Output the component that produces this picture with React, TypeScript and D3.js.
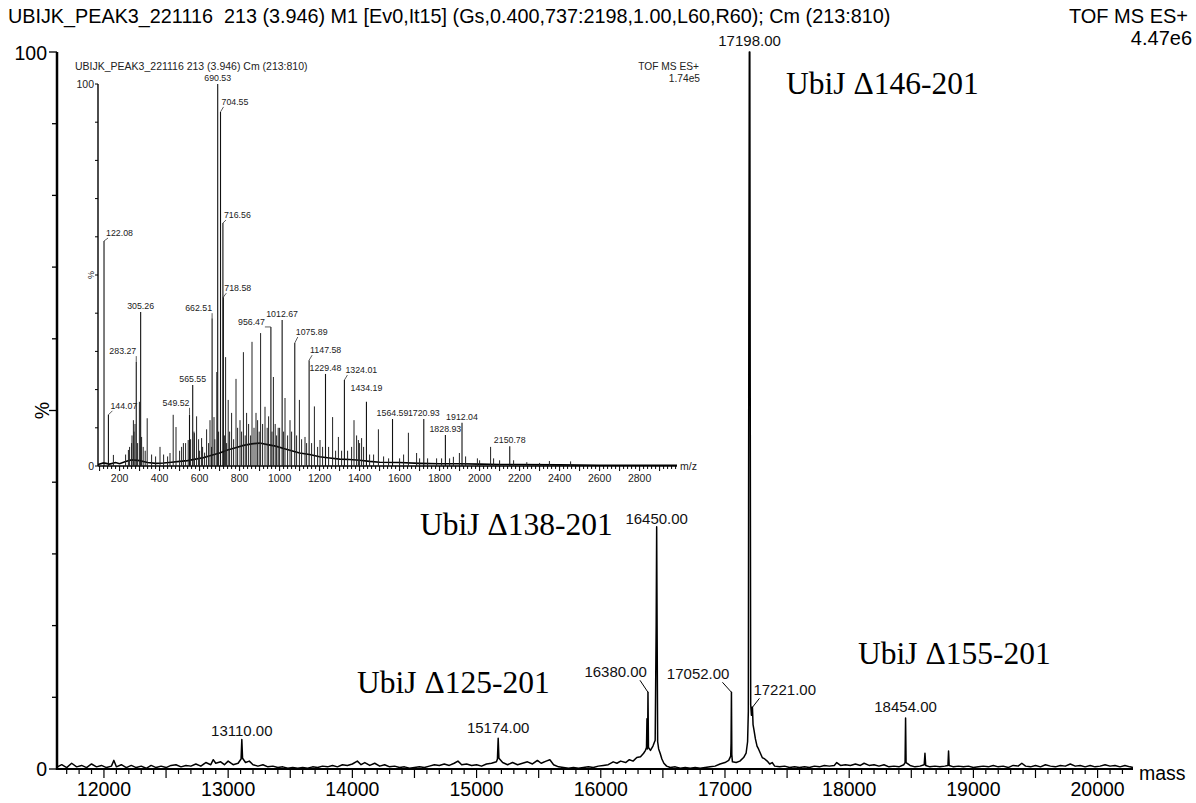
import React from "react";
import * as d3 from "d3";

const W = 1196;
const H = 803;

// deconvoluted spectrum, [mass, %]
const mainProfile: [number, number][] = [
  [11625, 0.3], [11660, 0.6], [11700, 0.2], [11740, 0.8], [11780, 0.3], [11820, 0.5], [11860, 0.2],
  [11900, 0.7], [11940, 0.3], [11980, 0.5], [12020, 0.2], [12060, 0.4], [12080, 1.2], [12100, 0.3],
  [12140, 0.6], [12180, 0.2], [12220, 0.5], [12260, 0.2], [12300, 0.4], [12340, 0.1], [12380, 0.5],
  [12420, 0.2], [12460, 0.4], [12500, 0.2], [12540, 0.5], [12580, 0.6], [12620, 0.3], [12660, 0.5],
  [12700, 0.4], [12740, 0.7], [12780, 0.4], [12820, 0.9], [12860, 0.6], [12880, 1.3], [12900, 0.8],
  [12940, 1.0], [12970, 0.6], [13000, 1.1], [13040, 0.6], [13080, 0.8], [13104, 1.4], [13110, 4.1],
  [13116, 1.5], [13140, 0.9], [13170, 1.1], [13200, 0.6], [13240, 0.4], [13280, 0.6], [13320, 0.3],
  [13360, 0.4], [13400, 0.2], [13440, 0.3], [13480, 0.1], [13520, 0.2], [13560, 0.1], [13600, 0.2],
  [13640, 0.1], [13680, 0.3], [13720, 0.2], [13760, 0.4], [13800, 0.3], [13840, 0.5], [13880, 0.3],
  [13920, 0.6], [13960, 0.5], [14000, 0.7], [14040, 1.1], [14070, 0.6], [14100, 0.9], [14140, 0.5],
  [14180, 0.8], [14220, 0.4], [14260, 0.6], [14300, 0.3], [14340, 0.4], [14380, 0.2], [14420, 0.3],
  [14460, 0.1], [14500, 0.2], [14540, 0.3], [14580, 0.2], [14620, 0.4], [14660, 0.6], [14700, 0.5],
  [14740, 0.7], [14780, 0.5], [14820, 0.8], [14850, 1.1], [14880, 0.6], [14920, 0.7], [14960, 0.5],
  [15000, 0.6], [15040, 0.4], [15080, 0.7], [15120, 0.8], [15160, 1.0], [15168, 1.4], [15174, 4.3],
  [15180, 1.5], [15210, 0.9], [15250, 0.6], [15290, 0.9], [15330, 0.6], [15370, 0.8], [15410, 1.0],
  [15450, 0.7], [15490, 1.2], [15520, 0.8], [15560, 1.1], [15590, 1.3], [15620, 0.6], [15660, 0.3],
  [15700, 0.2], [15740, 0.1], [15780, 0.2], [15820, 0.1], [15860, 0.2], [15900, 0.3], [15940, 0.2],
  [15980, 0.4], [16020, 0.5], [16060, 0.6], [16100, 1.0], [16130, 0.8], [16160, 1.1], [16200, 0.9],
  [16230, 1.3], [16260, 1.1], [16290, 1.6], [16320, 1.7], [16345, 2.2], [16360, 2.6], [16368, 3.0],
  [16372, 7.0], [16375, 2.8], [16377, 3.2], [16380, 10.7], [16384, 3.0], [16400, 2.6], [16420, 3.2],
  [16438, 4.0], [16446, 20], [16450, 33.8], [16454, 18], [16458, 3.8], [16466, 2.8], [16478, 2.2],
  [16492, 1.4], [16508, 0.8], [16530, 0.4], [16560, 0.2], [16600, 0.3], [16640, 0.1], [16680, 0.2], [16720, 0.1],
  [16760, 0.2], [16800, 0.1], [16840, 0.2], [16880, 0.3], [16920, 0.4], [16960, 0.7], [17000, 0.9],
  [17030, 1.2], [17046, 1.8], [17049, 3.6], [17052, 10.7], [17055, 2.0], [17060, 1.0], [17090, 0.9],
  [17120, 1.1], [17150, 1.6], [17170, 2.2], [17182, 3.8], [17188, 8], [17192, 62], [17196, 100],
  [17200, 100], [17203, 55], [17207, 9.0], [17213, 7.5], [17218, 8.6], [17221, 8.6], [17226, 6.2],
  [17234, 5.4], [17245, 4.2], [17258, 3.2], [17270, 2.8], [17285, 2.2], [17300, 1.6], [17320, 1.4],
  [17340, 1.1], [17360, 0.7], [17380, 0.9], [17400, 0.4], [17440, 0.3], [17480, 0.4], [17520, 0.2],
  [17560, 0.3], [17600, 0.2], [17640, 0.3], [17680, 0.2], [17720, 0.4], [17760, 0.3], [17800, 0.5],
  [17840, 0.4], [17880, 0.5], [17900, 0.9], [17930, 0.5], [17970, 0.6], [18010, 0.5], [18050, 0.7],
  [18090, 0.5], [18120, 0.8], [18160, 0.5], [18200, 0.6], [18240, 0.4], [18280, 0.6], [18320, 0.3],
  [18360, 0.4], [18400, 0.3], [18440, 0.6], [18450, 0.9], [18454, 7.1], [18458, 0.9], [18490, 0.5],
  [18530, 0.3], [18570, 0.4], [18604, 0.6], [18610, 2.2], [18616, 0.5], [18650, 0.3], [18690, 0.4],
  [18730, 0.3], [18770, 0.4], [18795, 0.5], [18800, 2.5], [18805, 0.5], [18840, 0.3], [18880, 0.4],
  [18920, 0.3], [18960, 0.4], [19000, 0.2], [19040, 0.3], [19080, 0.4], [19120, 0.3], [19160, 0.5],
  [19200, 0.3], [19240, 0.4], [19280, 0.2], [19320, 0.5], [19360, 0.4], [19390, 0.8], [19420, 0.4],
  [19460, 0.3], [19500, 0.5], [19540, 0.3], [19580, 0.6], [19620, 0.4], [19660, 0.3], [19700, 0.5],
  [19740, 0.4], [19780, 0.7], [19820, 0.4], [19860, 0.5], [19900, 0.3], [19940, 0.5], [19980, 0.3],
  [20020, 0.4], [20060, 0.6], [20100, 0.4], [20140, 0.5], [20180, 0.3], [20220, 0.5], [20260, 0.3],
  [20285, 0.2],
];

const mainLabels = [13110, 15174, 16380, 16450, 17052, 17198, 17221, 18454];
const mainTicks = [12000, 13000, 14000, 15000, 16000, 17000, 18000, 19000, 20000];

const annotations = ["UbiJ Δ146-201", "UbiJ Δ138-201", "UbiJ Δ125-201", "UbiJ Δ155-201"];

// inset m/z spectrum: labelled peaks [m/z, %]
const insetLabeled: [number, number][] = [
  [122.08, 58.9], [144.07, 13.4], [283.27, 27.2], [305.26, 40.3], [549.52, 13.4], [565.55, 21.2],
  [662.51, 38.7], [690.53, 100], [704.55, 92.7], [716.56, 63.6], [718.58, 44.2], [956.47, 36.4],
  [1012.67, 38.2], [1075.89, 32.2], [1147.58, 27.7], [1229.48, 24.1], [1324.01, 22.5],
  [1434.19, 16.8], [1564.59, 12.3], [1720.93, 12.3], [1828.93, 8.1], [1912.04, 11.3], [2150.78, 5.2],
];

// unlabelled sticks [m/z, %]
const insetSticks: [number, number][] = [
  [169, 2.9], [230, 3], [244, 4.2], [250, 5], [260, 6], [262, 8], [269, 12], [272, 9], [277, 11],
  [290, 6], [299, 16.8], [310, 7.6], [318, 5], [328, 4], [338, 12.5], [360, 3], [380, 2.5],
  [402, 5], [420, 3], [440, 2.5], [452, 3.4], [468, 13.4], [482, 10.2], [500, 4], [510, 5],
  [519, 6], [530, 6], [543, 6.8], [555, 7], [572, 9], [574, 8.6], [585, 13], [595, 7], [600, 4],
  [610, 7.3], [615, 5], [625, 3.5], [635, 9.6], [645, 6], [652, 12], [660, 5], [672, 12.8],
  [676, 7], [686, 24.6], [695, 9], [725, 8], [730, 28.5], [735, 6], [743, 17.3], [750, 9],
  [760, 13.9], [770, 7], [782, 22.8], [790, 10], [802, 12], [810, 9], [819, 29.8], [828, 8],
  [835, 13.9], [845, 11], [855, 8], [862, 32.5], [872, 10], [882, 13.9], [890, 12], [898, 9],
  [905, 34.8], [915, 11], [927, 15.5], [938, 10], [945, 13], [962, 9], [969, 23.3], [978, 11],
  [985, 8], [993, 10], [1000, 10], [1020, 9], [1027, 17.8], [1040, 8], [1052, 12], [1060, 9],
  [1085, 8], [1099, 17.3], [1110, 7], [1127, 7.6], [1135, 6], [1160, 6], [1174, 15.6], [1190, 5],
  [1202, 6.8], [1215, 5], [1245, 5], [1265, 12.8], [1280, 4], [1294, 7.6], [1310, 4], [1340, 4],
  [1360, 5], [1372, 12], [1385, 8], [1394, 6.8], [1400, 6], [1410, 7.3], [1420, 5], [1450, 3],
  [1470, 3], [1494, 9.6], [1520, 2.5], [1545, 2], [1600, 2], [1620, 3], [1644, 8.7], [1685, 3.4],
  [1700, 2], [1740, 2], [1785, 2], [1810, 2], [1850, 2], [1869, 2.4], [1899, 3.4], [1930, 2.5],
  [1989, 2], [2000, 1.5], [2055, 5], [2070, 2], [2100, 1.5], [2170, 1.5], [2236, 1], [2300, 0.8],
  [2349, 1.3], [2455, 1.2],
];

// broad hump under the sticks [m/z, %]
const insetBaseline: [number, number][] = [
  [92, 0.4], [120, 0.8], [150, 0.5], [180, 0.9], [200, 0.6], [230, 1.2], [260, 1.6], [300, 1.4],
  [340, 0.9], [380, 0.7], [420, 0.8], [460, 1.0], [500, 1.2], [540, 1.4], [580, 1.8], [620, 2.2],
  [660, 2.8], [700, 3.4], [740, 4.2], [780, 4.8], [820, 5.4], [860, 5.8], [900, 6.0], [940, 5.6],
  [980, 5.2], [1020, 4.6], [1060, 4.0], [1100, 3.4], [1150, 3.0], [1200, 2.4], [1250, 2.1],
  [1300, 1.8], [1350, 1.7], [1400, 1.5], [1450, 1.2], [1500, 1.0], [1600, 0.9], [1700, 0.7],
  [1800, 0.6], [1900, 0.6], [2000, 0.5], [2100, 0.4], [2200, 0.4], [2400, 0.3], [2600, 0.2],
  [2800, 0.2], [2987, 0.2],
];

const insetTicks = [200, 400, 600, 800, 1000, 1200, 1400, 1600, 1800, 2000, 2200, 2400, 2600, 2800];

const SANS = "'Liberation Sans', Arial, sans-serif";
const SERIF = "'Liberation Serif', 'Times New Roman', serif";

// label placement: [dx, dy, anchor, leader]
type Place = [number, number, "start" | "middle" | "end", boolean];
const mainPlace: Record<number, Place> = {
  13110: [0, -4, "middle", false],
  15174: [0, -5, "middle", false],
  16380: [-1, -15, "end", true],
  16450: [0, -3, "middle", false],
  17052: [-2, -13, "end", true],
  17198: [0, -6, "middle", false],
  17221: [1, -12, "start", true],
  18454: [0, -6, "middle", false],
};
const insetPlace: Record<string, Place> = {
  "122.08": [1, -5, "start", true],
  "144.07": [1, -6, "start", true],
  "283.27": [0, -8, "end", true],
  "549.52": [0, -9, "end", true],
  "662.51": [0, -7, "end", true],
  "704.55": [0, -7, "start", true],
  "716.56": [0, -5, "start", true],
  "718.58": [0, -6, "start", true],
  "956.47": [-6, -2, "end", true],
  "1075.89": [0, -8, "start", true],
  "1147.58": [0, -7, "start", true],
  "1324.01": [0, -7, "start", true],
  "1434.19": [0, -11, "middle", false],
};

export default function App() {
  // main axes
  const x = d3.scaleLinear().domain([11622, 20285]).range([57, 1133]);
  const y = d3.scaleLinear().domain([0, 100]).range([769, 52]);
  const line = d3.line<[number, number]>().x((d) => x(d[0])).y((d) => y(d[1]));

  // inset axes
  const ix = d3.scaleLinear().domain([92, 2987]).range([98, 677]);
  const iy = d3.scaleLinear().domain([0, 100]).range([466, 84]);
  const iline = d3.line<[number, number]>().x((d) => ix(d[0])).y((d) => iy(d[1]));

  const minorX = d3.range(11700, 20285, 100);
  const minorIX = d3.range(100, 2987, 20);

  const peakTop = (m: number) => {
    const near = mainProfile.filter((p) => Math.abs(p[0] - m) <= 6);
    return d3.max(near, (p) => p[1]) ?? 0;
  };

  const annPos: [number, number][] = [[786, 94], [420, 535], [357, 693], [858, 664]];

  return (
    <svg width={W} height={H} style={{ position: "absolute", left: 0, top: 0, background: "#fff" }}>
      <rect width={W} height={H} fill="#fff" />
      {/* header */}
      <text x={8} y={23} fontFamily={SANS} fontSize={19.8} fill="#000" style={{ whiteSpace: "pre" }}>
        {"UBIJK_PEAK3_221116  213 (3.946) M1 [Ev0,It15] (Gs,0.400,737:2198,1.00,L60,R60); Cm (213:810)"}
      </text>
      <text x={1188} y={23} fontFamily={SANS} fontSize={20} textAnchor="end">TOF MS ES+</text>
      <text x={1192} y={45} fontFamily={SANS} fontSize={20} textAnchor="end">4.47e6</text>

      {/* main y axis */}
      <line x1={57} x2={57} y1={y(100)} y2={y(0) + 1} stroke="#000" strokeWidth={2.5} />
      {d3.range(0, 101, 10).map((v) => (
        <line key={v} x1={v % 50 === 0 ? 49 : 52} x2={57} y1={y(v)} y2={y(v)} stroke="#000" strokeWidth={1.3} />
      ))}
      <text x={47} y={y(100) + 8} fontFamily={SANS} fontSize={19.5} textAnchor="end">100</text>
      <text x={47} y={y(0) + 7} fontFamily={SANS} fontSize={19.5} textAnchor="end">0</text>
      <text transform={`translate(49,${y(50)}) rotate(-90)`} fontFamily={SANS} fontSize={19.5} textAnchor="middle">%</text>

      {/* main x axis */}
      <line x1={57} x2={1133} y1={y(0)} y2={y(0)} stroke="#000" strokeWidth={2.2} />
      {minorX.map((v) => (
        <line key={v} x1={x(v)} x2={x(v)} y1={y(0)} y2={y(0) + (v % 500 === 0 ? 9 : 5)} stroke="#000" strokeWidth={1.2} />
      ))}
      {mainTicks.map((v) => (
        <text key={v} x={x(v)} y={796} fontFamily={SANS} fontSize={19.5} textAnchor="middle">{v}</text>
      ))}
      <text x={1139} y={780} fontFamily={SANS} fontSize={19.5}>mass</text>

      {/* main spectrum */}
      <path d={line(mainProfile) ?? ""} fill="none" stroke="#000" strokeWidth={1.5} strokeLinejoin="round" />

      {mainLabels.map((m) => {
        const [dx, dy, anchor, leader] = mainPlace[m];
        const px = x(m);
        const top = y(peakTop(m));
        const tx = px + dx;
        const ty = top + dy;
        const lx = anchor === "end" ? tx - 7 : tx + 6;
        return (
          <g key={m}>
            {leader && <line x1={px} y1={top} x2={lx} y2={ty + 3} stroke="#000" strokeWidth={1} />}
            <text x={tx} y={ty} fontFamily={SANS} fontSize={15} fill="#111" textAnchor={anchor}>
              {m.toFixed(2)}
            </text>
          </g>
        );
      })}

      {annotations.map((a, i) => (
        <text key={a} x={annPos[i][0]} y={annPos[i][1]} fontFamily={SERIF} fontSize={31.5} fill="#000">{a}</text>
      ))}

      {/* inset */}
      <text x={75} y={70} fontFamily={SANS} fontSize={10.5} fill="#222">UBIJK_PEAK3_221116 213 (3.946) Cm (213:810)</text>
      <text x={699} y={70} fontFamily={SANS} fontSize={10.2} fill="#222" textAnchor="end">TOF MS ES+</text>
      <text x={700} y={82} fontFamily={SANS} fontSize={10.2} fill="#222" textAnchor="end">1.74e5</text>

      <line x1={98} x2={98} y1={iy(100)} y2={iy(0)} stroke="#000" strokeWidth={1.4} />
      {d3.range(0, 101, 10).map((v) => (
        <line key={v} x1={95} x2={98} y1={iy(v)} y2={iy(v)} stroke="#000" strokeWidth={1} />
      ))}
      <text x={94} y={iy(100) + 4} fontFamily={SANS} fontSize={10.5} fill="#222" textAnchor="end">100</text>
      <text x={94} y={iy(0) + 4} fontFamily={SANS} fontSize={10.5} fill="#222" textAnchor="end">0</text>
      <text transform={`translate(94,${iy(50)}) rotate(-90)`} fontFamily={SANS} fontSize={9} fill="#222" textAnchor="middle">%</text>

      <line x1={98} x2={677} y1={iy(0)} y2={iy(0)} stroke="#000" strokeWidth={1.4} />
      {minorIX.map((v) => (
        <line key={v} x1={ix(v)} x2={ix(v)} y1={iy(0)} y2={iy(0) + (v % 100 === 0 ? 5 : 3)} stroke="#000" strokeWidth={1} />
      ))}
      {insetTicks.map((v) => (
        <text key={v} x={ix(v)} y={482} fontFamily={SANS} fontSize={10.5} fill="#222" textAnchor="middle">{v}</text>
      ))}
      <text x={680} y={470} fontFamily={SANS} fontSize={10.5} fill="#222">m/z</text>

      <path d={iline(insetBaseline) ?? ""} fill="none" stroke="#000" strokeWidth={1.6} />
      {insetSticks.map((d, i) => (
        <line key={i} x1={ix(d[0])} x2={ix(d[0])} y1={iy(0)} y2={iy(d[1])} stroke="#222" strokeWidth={1} />
      ))}
      {insetLabeled.map((d) => (
        <line key={d[0]} x1={ix(d[0])} x2={ix(d[0])} y1={iy(0)} y2={iy(d[1])} stroke="#111" strokeWidth={1.1} />
      ))}
      {insetLabeled.map((d) => {
        const key = d[0].toFixed(2);
        const [dx, dy, anchor, leader] = insetPlace[key] ?? [0, -3, "middle", false];
        const px = ix(d[0]);
        const top = iy(d[1]);
        const tx = px + dx;
        const ty = top + dy;
        const lx = anchor === "end" ? tx : tx + 3;
        return (
          <g key={key}>
            {leader && <line x1={px} y1={top} x2={lx} y2={ty + 2} stroke="#333" strokeWidth={0.8} />}
            <text x={anchor === "start" ? tx + 1 : tx} y={ty} fontFamily={SANS} fontSize={8.8} fill="#222" textAnchor={anchor}>
              {key}
            </text>
          </g>
        );
      })}
    </svg>
  );
}
